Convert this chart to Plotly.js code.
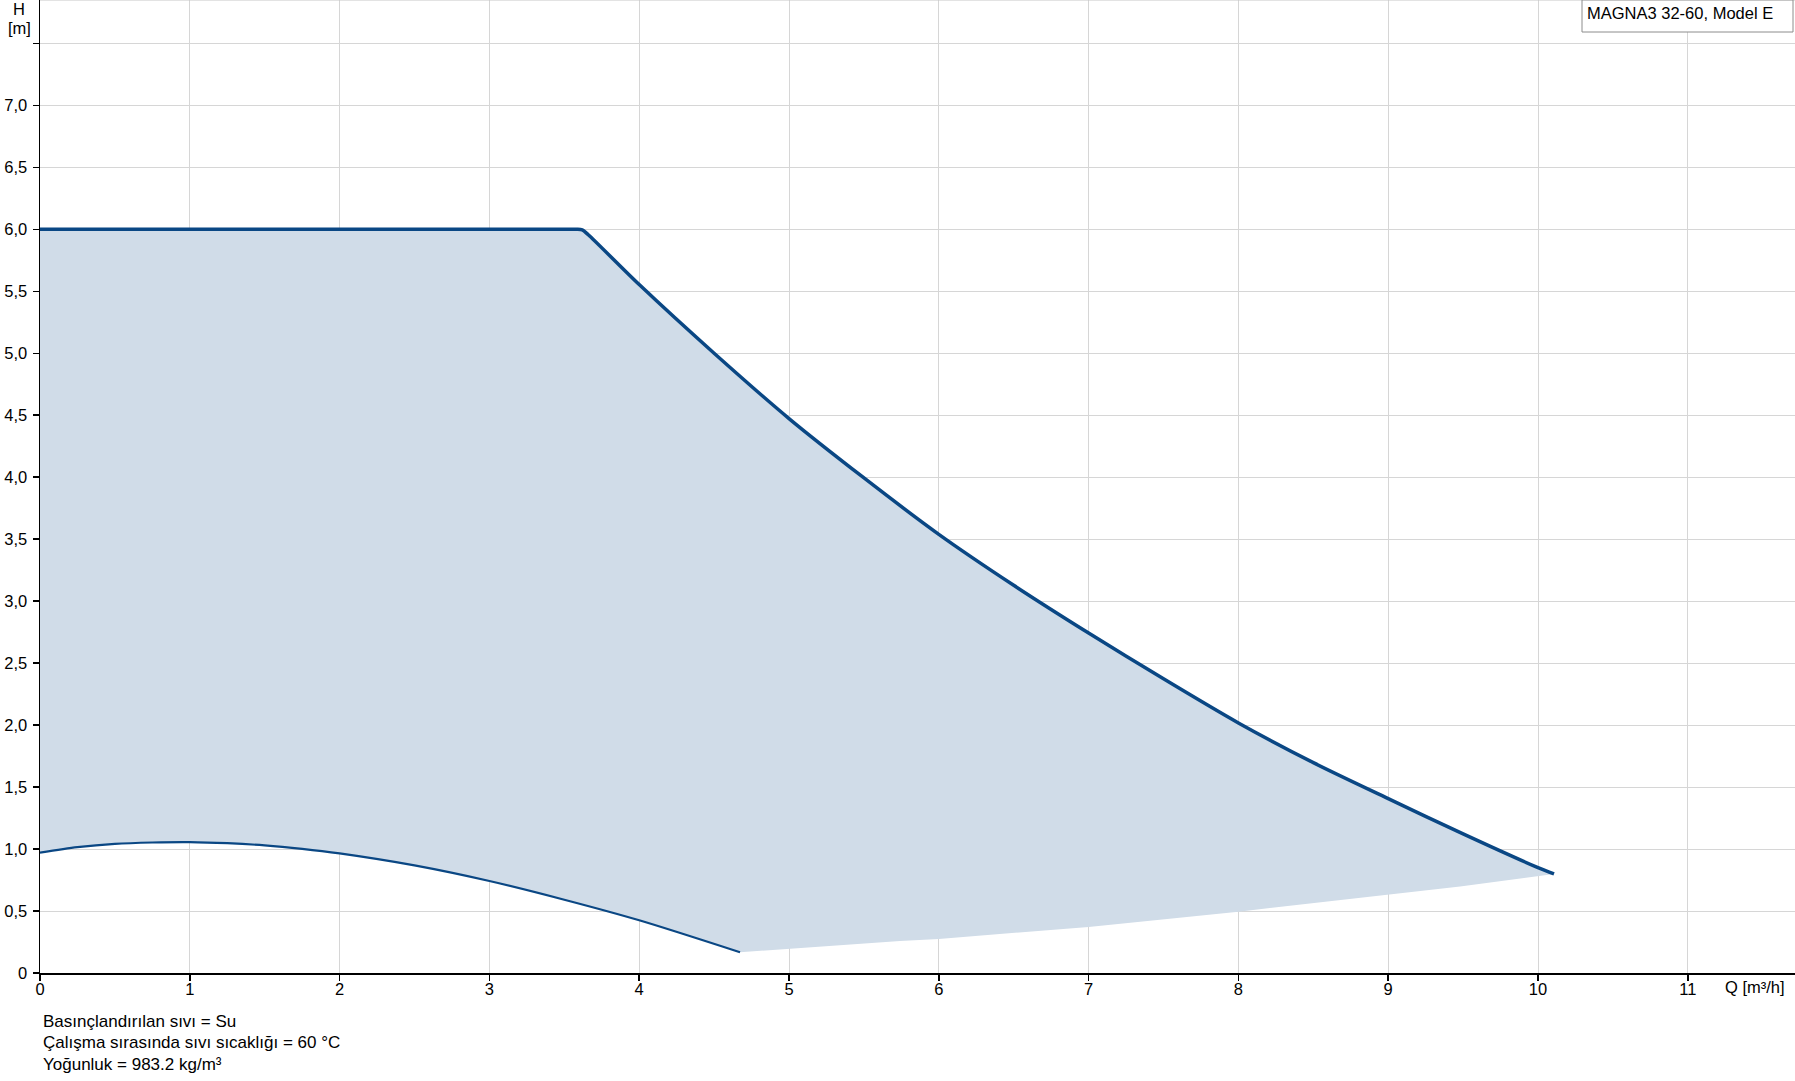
<!DOCTYPE html>
<html>
<head>
<meta charset="utf-8">
<script src="https://cdn.plot.ly/plotly-3.0.1.min.js"></script>
<style>html,body{margin:0;padding:0;background:#fff;}#chart{width:1795px;height:1081px;}</style>
</head>
<body>
<div id="chart"></div>
<script>
// Upper (max) curve, Q [m3/h] vs H [m]
const upperQ = [0, 1.8, 3.4, 3.58, 3.62, 3.66, 4.0, 4.5, 5.0, 5.494, 6.0, 6.5, 7.0, 7.5, 8.0, 8.5, 9.0, 9.5, 10.0, 10.107];
const upperH = [6.0, 6.0, 6.0, 6.0, 5.995, 5.956, 5.554, 5.0, 4.473, 4.0, 3.539, 3.128, 2.743, 2.373, 2.017, 1.697, 1.407, 1.122, 0.850, 0.799];
// Lower (min) curve
const lowerQ = [0, 0.25, 0.5, 0.75, 1.0, 1.25, 1.5, 1.75, 2.0, 2.5, 3.0, 3.5, 4.0, 4.673];
const lowerH = [0.971, 1.015, 1.042, 1.053, 1.056, 1.047, 1.030, 1.002, 0.965, 0.868, 0.742, 0.591, 0.425, 0.167];
// Lower edge of operating area (from min curve end to max curve end)
const edgeQ = [4.673, 5.0, 5.407, 5.741, 6.0, 7.0, 8.0, 9.0, 9.48, 10.107];
const edgeH = [0.167, 0.194, 0.229, 0.259, 0.275, 0.372, 0.495, 0.634, 0.698, 0.799];

const xTickVals = [0,1,2,3,4,5,6,7,8,9,10,11];
const xTickText = ['0','1','2','3','4','5','6','7','8','9','10','11'];
const yTickVals = [0,0.5,1,1.5,2,2.5,3,3.5,4,4.5,5,5.5,6,6.5,7,7.5];
const yTickText = ['0','0,5','1,0','1,5','2,0','2,5','3,0','3,5','4,0','4,5','5,0','5,5','6,0','6,5','7,0',''];

const legendText = 'MAGNA3 32-60, Model E';
const notes = ['Basınçlandırılan sıvı = Su', 'Çalışma sırasında sıvı sıcaklığı = 60 °C', 'Yoğunluk = 983.2 kg/m³'];

// Build fill polygon from the arrays
const polyQ = upperQ.concat(edgeQ.slice().reverse()).concat(lowerQ.slice().reverse());
const polyH = upperH.concat(edgeH.slice().reverse()).concat(lowerH.slice().reverse());

const W = 1795, H = 1081;
const mL = 40, mR = 0, mT = 0, mB = 108;
const plotW = W - mL - mR, plotH = H - mT - mB;
const px = x => (x - mL) / plotW;
const py = y => (H - mB - y) / plotH;

const lineColor = '#0a4784';
const font = {family: '"Liberation Sans", Arial, sans-serif', size: 16.5, color: '#000'};
const noteFont = Object.assign({}, font, {size: 17});

const traces = [
  {x: polyQ, y: polyH, type: 'scatter', mode: 'lines', fill: 'toself', fillcolor: '#d0dce8',
   line: {width: 0, color: 'rgba(0,0,0,0)'}, hoverinfo: 'skip', showlegend: false},
  {x: lowerQ, y: lowerH, type: 'scatter', mode: 'lines', line: {color: lineColor, width: 2.2, shape: 'spline', smoothing: 0.8}, showlegend: false},
  {x: upperQ, y: upperH, type: 'scatter', mode: 'lines', line: {color: lineColor, width: 3.5, shape: 'spline', smoothing: 0.8}, showlegend: false}
];

const annotations = [
  {xref: 'paper', yref: 'paper', x: px(19), y: py(8.5), text: 'H', showarrow: false, xanchor: 'center', yanchor: 'middle', font: font},
  {xref: 'paper', yref: 'paper', x: px(19), y: py(28.5), text: '[m]', showarrow: false, xanchor: 'center', yanchor: 'middle', font: font},
  {xref: 'paper', yref: 'paper', x: px(1723), y: py(987.5), text: 'Q [m³/h]', showarrow: false, xanchor: 'left', yanchor: 'middle', font: font},
  {xref: 'paper', yref: 'paper', x: px(1585), y: py(13), text: legendText, showarrow: false, xanchor: 'left', yanchor: 'middle', font: font}
];
const noteY = [1021, 1042.5, 1064];
notes.forEach((t, i) => annotations.push({xref: 'paper', yref: 'paper', x: px(41), y: py(noteY[i]), text: t,
  showarrow: false, xanchor: 'left', yanchor: 'middle', font: noteFont}));

const layout = {
  width: W, height: H,
  margin: {l: mL, r: mR, t: mT, b: mB, pad: 0},
  paper_bgcolor: '#fff', plot_bgcolor: '#fff',
  font: font,
  showlegend: false,
  xaxis: {range: [0, plotW / 149.8], tickvals: xTickVals, ticktext: xTickText, showgrid: true, gridcolor: '#d6d6d6', gridwidth: 1,
    zeroline: false, showline: true, linecolor: '#000', linewidth: 1.5, ticks: 'outside', ticklen: 6, tickcolor: '#000', tickwidth: 1.5,
    tickfont: font, ticklabelstandoff: -5, fixedrange: true},
  yaxis: {range: [0, plotH / 123.95], tickvals: yTickVals, ticktext: yTickText, showgrid: true, gridcolor: '#d6d6d6', gridwidth: 1,
    zeroline: false, showline: true, linecolor: '#000', linewidth: 1.5, ticks: 'outside', ticklen: 6, tickcolor: '#000', tickwidth: 1.5,
    tickfont: font, ticklabelstandoff: 2, fixedrange: true},
  shapes: [
    {type: 'line', xref: 'paper', yref: 'paper', x0: 0, x1: 1, y0: 1, y1: 1, line: {color: '#c8c8c8', width: 1}},
    {type: 'rect', xref: 'paper', yref: 'paper', x0: px(1582), x1: px(1793), y0: py(0), y1: py(32), fillcolor: '#fff',
     line: {color: '#8c8c8c', width: 1}, layer: 'above'}
  ],
  annotations: annotations
};

Plotly.newPlot('chart', traces, layout, {displayModeBar: false, staticPlot: true});
</script>
</body>
</html>
